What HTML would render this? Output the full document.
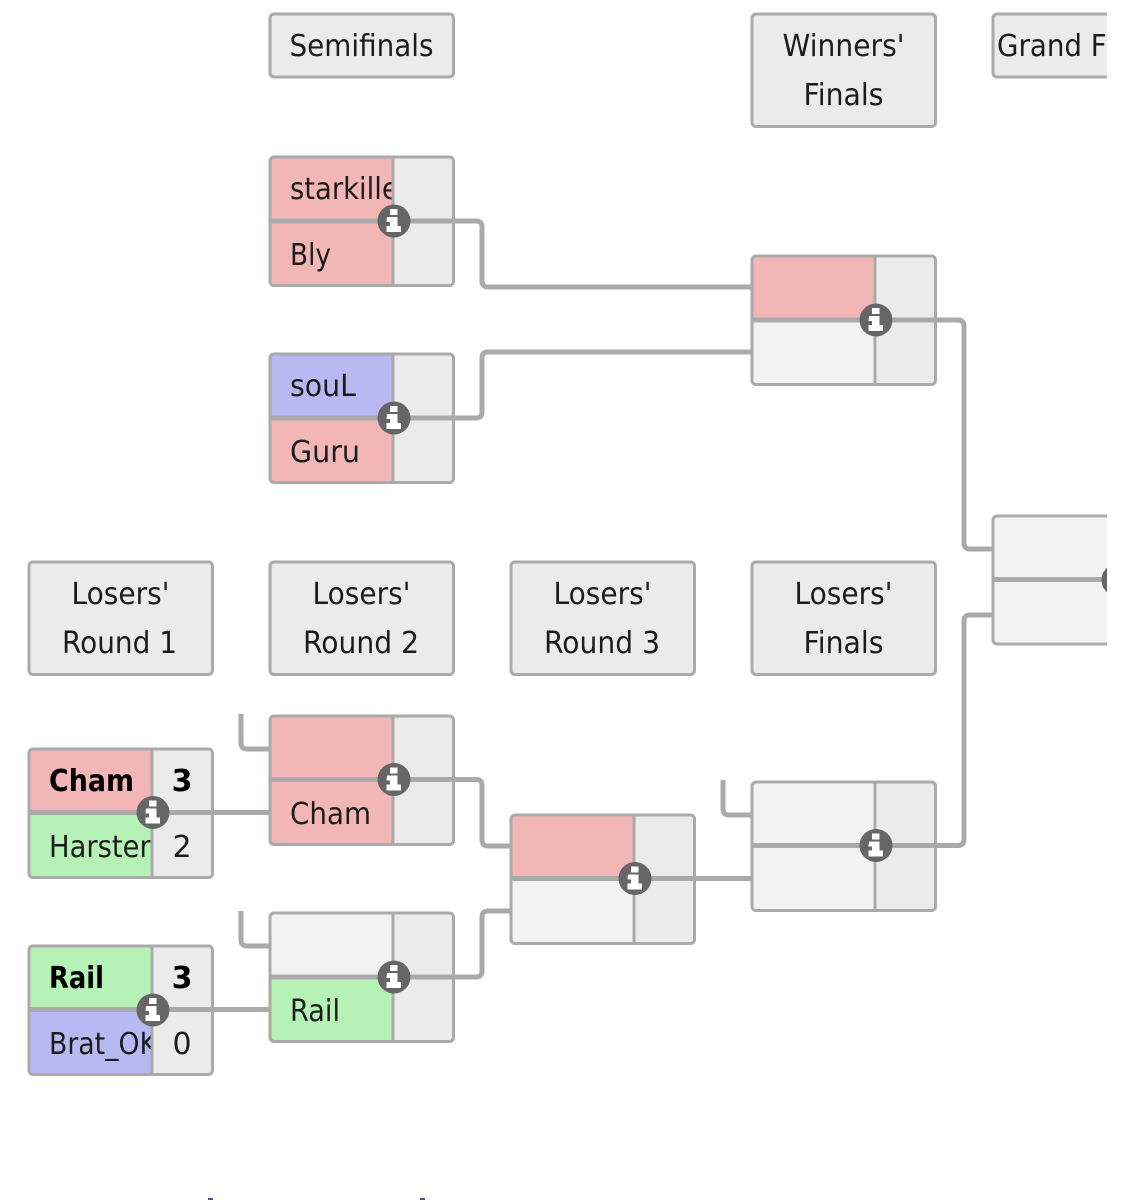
<!DOCTYPE html>
<html><head><meta charset="utf-8"><style>
html,body{margin:0;padding:0;background:#fff;width:1134px;height:1200px;overflow:hidden}
svg{display:block}
text{font-family:"DejaVu Sans","Liberation Sans",sans-serif;font-size:30px;fill:#1c1c1c}
.b{font-weight:bold;fill:#000}
.h{fill:#ebebeb;stroke:#aaa;stroke-width:3}
.o{fill:none;stroke:#aaa;stroke-width:3}
.c{fill:none;stroke:#aaa;stroke-width:5}
.d{stroke:#aaa;stroke-width:3}
.m{stroke:#aaa;stroke-width:5}
</style></head><body>
<svg width="1134" height="1200" viewBox="0 0 1134 1200" xmlns="http://www.w3.org/2000/svg">
<defs>
<clipPath id="page"><rect x="0" y="0" width="1107" height="1200"/></clipPath>
<clipPath id="n1"><rect x="270" y="150" width="122" height="1000"/></clipPath>
<clipPath id="n2"><rect x="29" y="700" width="122" height="500"/></clipPath>
<g id="info"><circle r="16.5" fill="#666"/><path d="M-4-12h7.500v6h-7.500zM-7-4h10.500v9h3.500v6h-14.500v-6h3.500v-4h-3.500z" fill="#fff"/></g>
</defs>
<g clip-path="url(#page)">
<!-- headers -->
<rect class="h" x="270" y="14" width="183.500" height="63" rx="4"/>
<text x="361.500" y="56" text-anchor="middle" textLength="144" lengthAdjust="spacingAndGlyphs">Semifinals</text>
<rect class="h" x="752" y="14" width="183.500" height="112.500" rx="4"/>
<text x="843.500" y="56" text-anchor="middle" textLength="122" lengthAdjust="spacingAndGlyphs">Winners'</text>
<text x="843.500" y="105" text-anchor="middle" textLength="80" lengthAdjust="spacingAndGlyphs">Finals</text>
<rect class="h" x="993" y="14" width="183" height="63" rx="4"/>
<text x="997" y="56" textLength="172" lengthAdjust="spacingAndGlyphs">Grand Finals</text>
<rect class="h" x="29" y="562" width="183.500" height="112.500" rx="4"/>
<text x="120.500" y="604" text-anchor="middle" textLength="98" lengthAdjust="spacingAndGlyphs">Losers'</text>
<text x="119.500" y="653" text-anchor="middle" textLength="115" lengthAdjust="spacingAndGlyphs">Round 1</text>
<rect class="h" x="270" y="562" width="183.500" height="112.500" rx="4"/>
<text x="361.500" y="604" text-anchor="middle" textLength="98" lengthAdjust="spacingAndGlyphs">Losers'</text>
<text x="361" y="653" text-anchor="middle" textLength="116" lengthAdjust="spacingAndGlyphs">Round 2</text>
<rect class="h" x="511" y="562" width="183.500" height="112.500" rx="4"/>
<text x="602.500" y="604" text-anchor="middle" textLength="98" lengthAdjust="spacingAndGlyphs">Losers'</text>
<text x="602" y="653" text-anchor="middle" textLength="116" lengthAdjust="spacingAndGlyphs">Round 3</text>
<rect class="h" x="752" y="562" width="183.500" height="112.500" rx="4"/>
<text x="843.500" y="604" text-anchor="middle" textLength="98" lengthAdjust="spacingAndGlyphs">Losers'</text>
<text x="843.500" y="653" text-anchor="middle" textLength="80" lengthAdjust="spacingAndGlyphs">Finals</text>

<!-- match A -->
<rect x="270" y="157" width="123" height="64" fill="#f2b6b6"/><rect x="270" y="221" width="123" height="64.500" fill="#f2b6b6"/><rect x="393" y="157" width="60.500" height="128.500" fill="#ebebeb"/>
<text x="290" y="199" clip-path="url(#n1)" textLength="120" lengthAdjust="spacingAndGlyphs">starkiller</text>
<text x="290" y="265" clip-path="url(#n1)" textLength="41" lengthAdjust="spacingAndGlyphs">Bly</text>
<!-- match B -->
<rect x="270" y="354" width="123" height="64" fill="#b8b8f2"/><rect x="270" y="418" width="123" height="64.500" fill="#f2b6b6"/><rect x="393" y="354" width="60.500" height="128.500" fill="#ebebeb"/>
<text x="290" y="396" textLength="66" lengthAdjust="spacingAndGlyphs">souL</text>
<text x="290" y="462" textLength="70" lengthAdjust="spacingAndGlyphs">Guru</text>
<!-- match C -->
<rect x="752" y="256" width="123" height="64" fill="#f2b6b6"/><rect x="752" y="320" width="123" height="64.500" fill="#f2f2f2"/><rect x="875" y="256" width="60.500" height="128.500" fill="#ebebeb"/>
<!-- match D -->
<rect x="993" y="516" width="183" height="128" fill="#f2f2f2"/>
<!-- match E -->
<rect x="270" y="716" width="123" height="64" fill="#f2b6b6"/><rect x="270" y="780" width="123" height="64.500" fill="#f2b6b6"/><rect x="393" y="716" width="60.500" height="128.500" fill="#ebebeb"/>
<text x="290" y="824" textLength="81" lengthAdjust="spacingAndGlyphs">Cham</text>
<!-- match F -->
<rect x="29" y="749" width="123" height="64" fill="#f2b6b6"/><rect x="29" y="813" width="123" height="64.500" fill="#b6f2b6"/><rect x="152" y="749" width="60.500" height="128.500" fill="#ebebeb"/>
<text class="b" x="49" y="791" textLength="85" lengthAdjust="spacingAndGlyphs">Cham</text>
<text x="49" y="857" clip-path="url(#n2)" textLength="116" lengthAdjust="spacingAndGlyphs">Harsters</text>
<text class="b" x="182" y="791" text-anchor="middle">3</text>
<text x="182" y="857" text-anchor="middle">2</text>
<!-- match G -->
<rect x="29" y="946" width="123" height="64" fill="#b6f2b6"/><rect x="29" y="1010" width="123" height="64.500" fill="#b8b8f2"/><rect x="152" y="946" width="60.500" height="128.500" fill="#ebebeb"/>
<text class="b" x="49" y="988" textLength="55" lengthAdjust="spacingAndGlyphs">Rail</text>
<text x="49" y="1054" clip-path="url(#n2)" textLength="108" lengthAdjust="spacingAndGlyphs">Brat_OK</text>
<text class="b" x="182" y="988" text-anchor="middle">3</text>
<text x="182" y="1054" text-anchor="middle">0</text>
<!-- match H -->
<rect x="270" y="913" width="123" height="64" fill="#f2f2f2"/><rect x="270" y="977" width="123" height="64.500" fill="#b6f2b6"/><rect x="393" y="913" width="60.500" height="128.500" fill="#ebebeb"/>
<text x="290" y="1021" textLength="50" lengthAdjust="spacingAndGlyphs">Rail</text>
<!-- match I -->
<rect x="511" y="815" width="123" height="64" fill="#f2b6b6"/><rect x="511" y="879" width="123" height="64.500" fill="#f2f2f2"/><rect x="634" y="815" width="60.500" height="128.500" fill="#ebebeb"/>
<!-- match J -->
<rect x="752" y="782" width="123" height="128.500" fill="#f2f2f2"/><rect x="875" y="782" width="60.500" height="128.500" fill="#ebebeb"/>

<!-- dividers -->
<g class="d">
<path d="M393 157V285M393 354V482M875 256V384M393 716V844M152 749V877M152 946V1074M393 913V1041M634 815V943M875 782V910"/>
</g>
<!-- borders -->
<rect class="o" x="270" y="157" width="183.500" height="128.500" rx="4"/>
<rect class="o" x="270" y="354" width="183.500" height="128.500" rx="4"/>
<rect class="o" x="752" y="256" width="183.500" height="128.500" rx="4"/>
<rect class="o" x="993" y="516" width="183" height="128" rx="4"/>
<rect class="o" x="270" y="716" width="183.500" height="128.500" rx="4"/>
<rect class="o" x="29" y="749" width="183.500" height="128.500" rx="4"/>
<rect class="o" x="29" y="946" width="183.500" height="128.500" rx="4"/>
<rect class="o" x="270" y="913" width="183.500" height="128.500" rx="4"/>
<rect class="o" x="511" y="815" width="183.500" height="128.500" rx="4"/>
<rect class="o" x="752" y="782" width="183.500" height="128.500" rx="4"/>
<!-- mid lines -->
<g class="m">
<path d="M270 221H393M270 418H393M752 320H875M993 579.500H1107M270 779.500H393M29 812.500H152M29 1009.500H152M270 977H393M511 878.500H634M752 845.500H875"/>
</g>
<!-- connectors -->
<g class="c">
<path d="M394 221H476Q482 221 482 227V281Q482 287 488 287H751"/>
<path d="M394 418H476Q482 418 482 412V358Q482 352 488 352H751"/>
<path d="M876 320H958Q964 320 964 326V543Q964 549 970 549H992"/>
<path d="M876 845.500H958Q964 845.500 964 839V621Q964 615 970 615H992"/>
<path d="M394 779.500H476Q482 779.500 482 785V840Q482 846 488 846H510"/>
<path d="M394 977H476Q482 977 482 971V917Q482 911 488 911H510"/>
<path d="M635 878.500H751"/>
<path d="M153 812.500H269"/>
<path d="M153 1009.500H269"/>
<path d="M241 714V743Q241 749 247 749H269"/>
<path d="M241 911V940Q241 946 247 946H269"/>
<path d="M723 780V809Q723 815 729 815H751"/>
</g>
<!-- info icons -->
<use href="#info" x="394" y="221"/>
<use href="#info" x="394" y="418"/>
<use href="#info" x="876" y="320"/>
<use href="#info" x="1118" y="580"/>
<use href="#info" x="394" y="779.500"/>
<use href="#info" x="153" y="812.500"/>
<use href="#info" x="153" y="1010"/>
<use href="#info" x="394" y="977"/>
<use href="#info" x="635" y="878.500"/>
<use href="#info" x="876" y="845.500"/>
<!-- clipped heading tops at the bottom edge -->
<rect x="208" y="1198" width="5" height="2" fill="#3c5a8c"/>
<rect x="420" y="1198" width="5" height="2" fill="#3c5a8c"/>
</g>
</svg>
</body></html>
